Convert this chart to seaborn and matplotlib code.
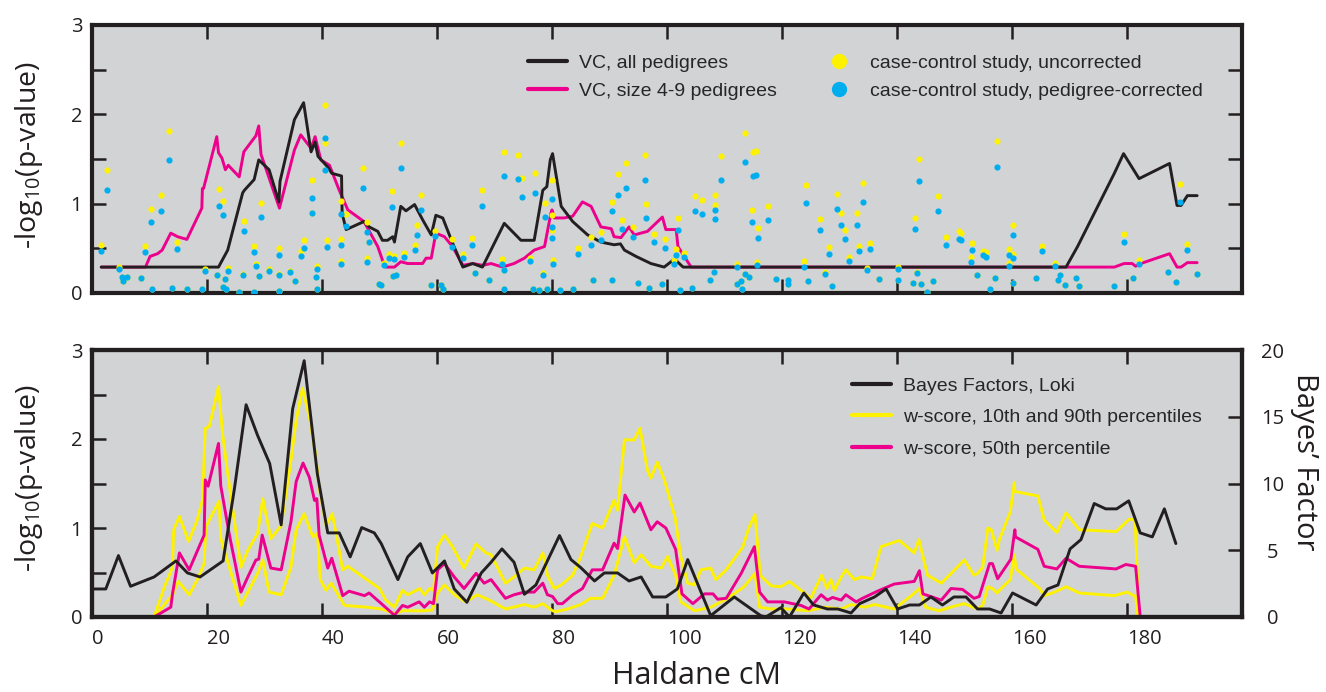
import matplotlib
matplotlib.use("Agg")
import matplotlib.pyplot as plt
import seaborn as sns
from matplotlib.lines import Line2D
from matplotlib.ticker import FixedLocator, MultipleLocator, FuncFormatter

# ---- top panel: variance components (VC) ----
vc_all_cm = [1.6, 22.0, 23.6, 26.2, 26.5, 28.2, 29.0, 30.8, 32.5, 32.7,
             35.2, 36.8, 38.1, 38.8, 39.3, 41.0, 41.7, 43.4, 43.5, 44.2,
             47.3, 48.2, 49.7, 50.5, 51.4, 52.3, 52.6, 53.7, 54.6, 56.1,
             57.5, 59.0, 59.8, 61.0, 62.7, 64.5, 66.2, 67.9, 71.7, 74.6,
             76.9, 78.4, 79.1, 79.7, 80.1, 81.6, 83.6, 86.2, 88.5, 90.8,
             91.9, 92.6, 94.6, 97.2, 99.5, 101.3, 102.8, 169.4, 171.4, 177.8,
             179.4, 182.1, 187.4, 188.7, 189.4, 190.5, 192.2]
vc_all = [0.29, 0.29, 0.48, 1.12, 1.15, 1.27, 1.49, 1.38, 1.02, 1.25,
          1.94, 2.13, 1.58, 1.69, 1.53, 1.41, 1.34, 1.31, 0.89, 0.71,
          0.80, 0.74, 0.69, 0.59, 0.59, 0.63, 0.57, 0.97, 0.92, 0.99,
          0.82, 0.65, 0.87, 0.84, 0.56, 0.29, 0.33, 0.29, 0.78, 0.59,
          0.59, 1.15, 1.19, 1.49, 1.56, 0.97, 0.80, 0.65, 0.57, 0.54,
          0.55, 0.48, 0.41, 0.33, 0.29, 0.38, 0.29, 0.29, 0.52, 1.34,
          1.56, 1.28, 1.45, 0.98, 0.98, 1.09, 1.09]

vc49_cm = [1.6, 9.3, 10.1, 11.4, 12.2, 13.7, 14.9, 16.5, 19.1, 19.2,
           19.4, 21.7, 22.0, 22.6, 23.2, 23.7, 25.6, 26.4, 28.5, 29.0,
           29.4, 32.6, 35.2, 36.3, 38.1, 38.8, 39.8, 41.3, 43.0, 44.5,
           47.3, 49.7, 50.5, 51.1, 52.6, 53.7, 54.9, 56.6, 57.5, 58.1,
           59.0, 59.8, 61.3, 62.7, 64.5, 66.2, 68.0, 69.4, 71.4, 73.4,
           75.2, 76.9, 78.7, 79.8, 80.0, 80.4, 82.1, 83.6, 85.3, 86.8,
           88.5, 90.3, 90.8, 92.0, 93.4, 94.3, 96.6, 99.2, 99.8, 101.6,
           101.9, 104.2, 177.8, 179.5, 180.9, 181.5, 182.4, 187.4, 188.7, 189.4,
           190.5, 192.2]
vc49 = [0.29, 0.29, 0.41, 0.44, 0.48, 0.67, 0.63, 0.60, 0.95, 1.17,
        1.17, 1.75, 1.57, 1.51, 1.38, 1.43, 1.30, 1.58, 1.76, 1.87,
        1.55, 0.95, 1.60, 1.77, 1.62, 1.75, 1.49, 1.43, 1.15, 0.93,
        0.80, 0.52, 0.37, 0.29, 0.29, 0.35, 0.33, 0.33, 0.33, 0.39,
        0.39, 0.67, 0.63, 0.52, 0.31, 0.33, 0.31, 0.33, 0.29, 0.33,
        0.39, 0.48, 0.52, 0.89, 0.93, 0.84, 0.84, 0.86, 1.02, 0.97,
        0.74, 0.72, 0.63, 0.62, 0.74, 0.65, 0.69, 0.85, 0.71, 0.71,
        0.52, 0.29, 0.29, 0.33, 0.33, 0.30, 0.33, 0.44, 0.29, 0.29,
        0.34, 0.34]

# case-control markers (same positions, uncorrected vs pedigree-corrected)
cc_cm = [1.6, 2.55, 4.75, 5.3, 5.4, 6.1, 8.6, 9.2, 10.3, 10.4,
         12.0, 13.4, 13.9, 14.8, 16.5, 19.2, 19.7, 21.7, 22.0, 22.7,
         22.8, 23.2, 23.3, 23.6, 25.6, 26.2, 26.5, 28.1, 28.2, 28.6,
         29.1, 29.4, 30.8, 32.5, 32.5, 32.5, 34.4, 35.3, 36.3, 36.9,
         38.2, 38.2, 39.0, 39.2, 39.2, 40.5, 40.6, 40.9, 43.3, 43.3,
         43.3, 44.2, 47.1, 47.8, 47.8, 48.1, 49.9, 50.3, 50.7, 51.6,
         52.2, 52.3, 52.6, 52.9, 53.7, 54.3, 56.1, 56.5, 57.3, 59.0,
         59.7, 60.7, 61.0, 62.6, 64.5, 66.1, 66.6, 67.8, 69.1, 71.3,
         71.6, 71.7, 71.6, 74.0, 74.8, 76.2, 76.7, 77.0, 77.8, 78.5,
         78.8, 79.1, 80.0, 80.0, 80.0, 80.2, 81.4, 83.6, 84.6, 86.7,
         87.2, 88.5, 90.4, 90.5, 91.5, 92.8, 92.2, 94.0, 95.0, 96.2,
         96.3, 96.9, 97.8, 99.2, 99.7, 101.3, 101.9, 101.5, 103.0, 102.3,
         104.3, 104.8, 106.1, 107.5, 108.2, 108.4, 108.4, 109.4, 112.2, 112.2,
         112.8, 113.0, 113.6, 113.6, 114.3, 114.8, 114.9, 115.5, 115.6, 115.9,
         117.6, 118.9, 121.0, 121.0, 123.8, 124.2, 124.5, 126.6, 127.4, 128.2,
         128.7, 129.6, 130.3, 130.9, 131.6, 133.0, 133.4, 134.0, 134.8, 135.3,
         136.9, 140.1, 140.2, 142.7, 143.1, 143.5, 143.9, 144.1, 145.2, 146.3,
         147.2, 148.5, 150.7, 151.1, 152.9, 153.0, 153.9, 154.9, 155.5, 156.2,
         157.1, 157.4, 159.4, 159.4, 160.1, 160.1, 160.1, 164.2, 165.2, 167.4,
         168.0, 168.4, 169.3, 171.1, 171.6, 177.8, 179.5, 181.1, 182.0, 187.2,
         188.6, 189.3, 190.5, 192.2]
cc_uncorrected = [0.54, 1.38, 0.29, 0.18, 0.13, 0.18, 0.17, 0.53, 0.94, 0.04,
                  1.10, 1.81, 0.06, 0.57, 0.04, 0.04, 0.27, 0.20, 1.16, 1.03,
                  0.07, 0.16, 0.05, 0.28, 0.01, 0.21, 0.81, 0.53, 0.01, 0.33,
                  0.19, 1.01, 0.27, 0.50, 0.21, 0.02, 0.25, 0.13, 0.47, 0.59,
                  1.27, 0.89, 0.18, 0.30, 0.05, 2.11, 1.68, 0.59, 1.03, 0.61,
                  0.36, 0.88, 1.40, 0.79, 0.39, 0.57, 0.10, 0.09, 0.34, 0.44,
                  1.14, 0.19, 0.41, 0.20, 1.68, 0.45, 0.54, 0.76, 1.10, 0.09,
                  0.69, 0.09, 0.04, 0.60, 0.44, 0.62, 0.22, 1.15, 0.15, 0.38,
                  1.58, 0.26, 0.05, 1.55, 1.29, 0.39, 0.05, 1.34, 0.03, 0.22,
                  1.01, 0.04, 1.27, 0.87, 0.70, 0.37, 0.03, 0.05, 0.50, 0.63,
                  0.14, 0.68, 1.02, 0.15, 1.33, 1.45, 0.82, 0.74, 0.11, 1.54,
                  1.00, 0.06, 0.66, 0.10, 0.60, 0.37, 0.84, 0.49, 0.45, 0.03,
                  0.06, 1.09, 1.04, 0.14, 0.24, 1.10, 0.98, 1.53, 0.33, 0.10,
                  0.13, 0.04, 1.79, 0.21, 0.18, 0.93, 1.58, 1.59, 0.35, 0.73,
                  0.97, 0.16, 0.15, 0.10, 0.36, 1.21, 0.13, 0.83, 0.23, 0.51,
                  0.08, 1.11, 0.90, 0.70, 0.40, 0.90, 0.53, 1.23, 0.28, 0.56,
                  0.16, 0.29, 0.14, 0.11, 0.84, 0.24, 1.50, 0.10, 0.01, 0.13,
                  1.09, 0.63, 0.69, 0.67, 0.40, 0.56, 0.20, 0.47, 0.46, 0.04,
                  0.17, 1.70, 0.49, 0.34, 0.76, 0.44, 0.11, 0.17, 0.53, 0.34,
                  0.14, 0.20, 0.09, 0.17, 0.08, 0.08, 0.66, 0.17, 0.37, 0.24,
                  0.12, 1.22, 0.55, 0.21]
cc_corrected = [0.47, 1.15, 0.27, 0.18, 0.13, 0.18, 0.17, 0.46, 0.79, 0.04,
                0.92, 1.49, 0.06, 0.49, 0.04, 0.04, 0.25, 0.20, 0.97, 0.87,
                0.07, 0.16, 0.05, 0.25, 0.01, 0.20, 0.69, 0.46, 0.01, 0.30,
                0.19, 0.85, 0.25, 0.43, 0.20, 0.02, 0.23, 0.13, 0.41, 0.50,
                1.06, 0.89, 0.18, 0.27, 0.05, 1.73, 1.38, 0.51, 0.88, 0.54,
                0.33, 0.75, 1.17, 0.68, 0.35, 0.57, 0.10, 0.09, 0.31, 0.39,
                0.96, 0.19, 0.38, 0.20, 1.40, 0.40, 0.48, 0.65, 0.93, 0.09,
                0.64, 0.09, 0.04, 0.52, 0.39, 0.54, 0.22, 0.97, 0.15, 0.33,
                1.31, 0.26, 0.05, 1.28, 1.08, 0.36, 0.05, 1.12, 0.03, 0.20,
                0.85, 0.04, 1.05, 0.74, 0.62, 0.32, 0.03, 0.05, 0.44, 0.54,
                0.14, 0.59, 0.92, 0.15, 1.10, 1.18, 0.72, 0.63, 0.11, 1.27,
                0.84, 0.06, 0.57, 0.10, 0.50, 0.33, 0.71, 0.43, 0.40, 0.03,
                0.06, 0.92, 0.88, 0.14, 0.24, 0.93, 0.83, 1.27, 0.29, 0.10,
                0.13, 0.04, 1.47, 0.21, 0.18, 0.79, 1.31, 1.32, 0.31, 0.62,
                0.82, 0.16, 0.15, 0.10, 0.29, 1.01, 0.13, 0.71, 0.21, 0.44,
                0.08, 0.94, 0.76, 0.61, 0.36, 0.76, 0.47, 1.02, 0.26, 0.49,
                0.16, 0.27, 0.14, 0.11, 0.72, 0.22, 1.25, 0.10, 0.01, 0.13,
                0.92, 0.54, 0.60, 0.59, 0.35, 0.48, 0.20, 0.42, 0.40, 0.04,
                0.17, 1.41, 0.42, 0.30, 0.65, 0.39, 0.11, 0.17, 0.47, 0.30,
                0.14, 0.20, 0.09, 0.17, 0.08, 0.08, 0.57, 0.17, 0.33, 0.23,
                0.12, 1.02, 0.48, 0.21]

# ---- bottom panel: w-scores and Loki Bayes factors ----
w90_cm = [10.8, 12.6, 14.0, 14.2, 15.2, 16.8, 18.3, 19.2, 19.7, 20.4,
          22.0, 22.7, 23.6, 24.5, 25.9, 27.1, 28.8, 29.7, 31.1, 32.9,
          34.6, 35.5, 36.6, 37.8, 38.9, 39.5, 40.7, 41.8, 43.6, 44.5,
          50.0, 51.1, 52.6, 54.0, 54.9, 57.0, 57.8, 58.7, 59.4, 60.1,
          61.3, 62.7, 64.7, 66.8, 68.5, 69.4, 71.9, 73.4, 75.2, 76.9,
          78.4, 79.2, 80.4, 81.6, 83.6, 85.0, 87.0, 88.8, 90.8, 91.4,
          92.6, 94.3, 95.3, 96.6, 97.2, 98.3, 99.5, 101.4, 102.4, 103.6,
          104.8, 105.9, 107.6, 108.5, 110.3, 113.2, 114.2, 115.3, 116.2, 118.1,
          119.8, 121.3, 123.3, 125.0, 126.9, 127.8, 128.5, 129.1, 130.3, 131.1,
          132.6, 133.8, 135.7, 137.2, 140.4, 143.0, 143.8, 145.3, 147.7, 149.4,
          151.7, 153.4, 154.0, 154.9, 155.8, 156.4, 157.4, 157.8, 159.7, 160.4,
          160.5, 164.5, 165.6, 167.8, 169.4, 171.7, 178.1, 180.4, 181.4, 182.1]
w90 = [0.0, 0.34, 0.56, 0.98, 1.13, 0.85, 1.09, 1.31, 2.12, 2.14,
       2.59, 2.06, 1.61, 1.20, 0.56, 0.75, 0.94, 1.33, 0.88, 1.03,
       1.76, 2.21, 2.57, 2.25, 1.82, 1.46, 1.03, 1.16, 0.53, 0.57,
       0.32, 0.19, 0.11, 0.30, 0.25, 0.32, 0.25, 0.32, 0.30, 0.79,
       0.92, 0.79, 0.55, 0.82, 0.72, 0.70, 0.38, 0.45, 0.55, 0.53,
       0.72, 0.47, 0.32, 0.36, 0.47, 0.68, 1.05, 1.00, 1.31, 1.20,
       1.99, 1.99, 2.12, 1.65, 1.56, 1.74, 1.55, 1.12, 0.68, 0.38,
       0.36, 0.53, 0.55, 0.42, 0.53, 0.79, 1.00, 1.15, 0.47, 0.35,
       0.34, 0.40, 0.30, 0.21, 0.47, 0.32, 0.42, 0.30, 0.45, 0.53,
       0.42, 0.45, 0.43, 0.79, 0.86, 0.72, 0.87, 0.47, 0.38, 0.49,
       0.64, 0.47, 0.49, 0.56, 1.00, 0.98, 0.75, 0.87, 1.18, 1.51,
       1.41, 1.36, 1.09, 0.95, 1.17, 0.98, 0.96, 1.10, 1.09, 0.0]

w10_cm = [10.8, 14.0, 15.0, 16.9, 18.4, 19.5, 19.8, 20.4, 22.1, 22.4,
          24.2, 25.9, 28.8, 29.7, 30.8, 32.9, 34.6, 35.5, 36.9, 38.4,
          39.2, 39.7, 40.7, 41.6, 43.9, 47.9, 50.3, 52.6, 54.0, 56.0,
          57.8, 59.2, 60.1, 61.3, 63.0, 65.0, 67.0, 69.1, 71.9, 75.2,
          76.9, 78.4, 80.1, 80.7, 82.7, 85.0, 86.7, 88.8, 90.8, 92.6,
          94.3, 95.5, 97.2, 99.0, 100.1, 101.5, 102.4, 104.8, 107.6, 110.5,
          113.4, 115.3, 116.1, 118.1, 121.0, 124.5, 127.4, 130.3, 132.0, 134.3,
          136.1, 139.5, 142.7, 143.9, 145.0, 147.3, 149.3, 151.7, 154.0, 154.9,
          155.8, 156.6, 157.4, 158.1, 159.7, 160.4, 160.7, 164.8, 165.6, 167.4,
          169.4, 171.7, 177.8, 180.0, 181.5, 181.9]
w10 = [0.0, 0.25, 0.40, 0.25, 0.43, 0.60, 1.01, 1.09, 1.30, 0.88,
       0.49, 0.13, 0.49, 0.64, 0.28, 0.25, 0.56, 0.98, 1.16, 0.90,
       0.94, 0.42, 0.30, 0.38, 0.13, 0.11, 0.09, 0.04, 0.07, 0.07,
       0.07, 0.08, 0.27, 0.36, 0.25, 0.17, 0.25, 0.19, 0.09, 0.14,
       0.11, 0.15, 0.07, 0.06, 0.09, 0.14, 0.21, 0.21, 0.47, 0.90,
       0.61, 0.70, 0.57, 0.55, 0.68, 0.47, 0.17, 0.07, 0.11, 0.21,
       0.34, 0.49, 0.11, 0.09, 0.09, 0.07, 0.11, 0.09, 0.14, 0.11,
       0.14, 0.09, 0.25, 0.32, 0.11, 0.07, 0.11, 0.15, 0.09, 0.13,
       0.34, 0.32, 0.27, 0.32, 0.42, 0.70, 0.54, 0.32, 0.24, 0.28,
       0.34, 0.27, 0.24, 0.28, 0.23, 0.0]

w50_cm = [10.8, 13.7, 14.0, 15.2, 16.9, 19.5, 19.7, 20.2, 22.0, 22.4,
          23.9, 25.9, 27.1, 28.5, 29.0, 29.6, 31.1, 32.9, 34.6, 35.5,
          36.7, 37.8, 38.7, 39.1, 39.5, 41.0, 41.7, 43.6, 44.7, 47.4,
          48.2, 50.5, 52.6, 54.0, 54.9, 56.9, 57.8, 58.7, 59.4, 60.1,
          61.3, 63.0, 64.7, 66.8, 68.2, 69.4, 71.9, 73.4, 75.2, 76.9,
          78.4, 79.2, 80.1, 81.0, 81.8, 83.6, 85.3, 87.0, 88.8, 90.8,
          91.4, 92.7, 94.3, 95.3, 97.2, 98.3, 99.8, 101.5, 102.6, 104.5,
          106.5, 108.0, 108.8, 110.3, 112.9, 115.2, 116.1, 117.5, 120.4, 123.3,
          124.7, 126.8, 127.9, 128.8, 130.3, 131.1, 132.9, 134.0, 136.6, 139.5,
          143.0, 143.9, 144.5, 147.7, 149.4, 151.4, 153.4, 154.3, 156.1, 156.6,
          157.5, 159.8, 160.5, 160.6, 164.5, 165.6, 167.8, 169.4, 171.7, 178.1,
          179.8, 181.5, 182.3]
w50 = [0.0, 0.11, 0.26, 0.72, 0.53, 0.92, 1.54, 1.47, 1.95, 1.47,
       0.92, 0.28, 0.45, 0.64, 0.65, 0.92, 0.55, 0.53, 1.07, 1.52,
       1.73, 1.57, 1.31, 1.33, 0.92, 0.55, 0.66, 0.24, 0.29, 0.24,
       0.27, 0.14, 0.02, 0.13, 0.11, 0.17, 0.11, 0.17, 0.15, 0.53,
       0.60, 0.45, 0.32, 0.49, 0.38, 0.42, 0.21, 0.25, 0.28, 0.28,
       0.38, 0.25, 0.23, 0.15, 0.15, 0.25, 0.32, 0.53, 0.53, 0.83,
       0.77, 1.37, 1.18, 1.28, 0.98, 1.07, 1.00, 0.76, 0.26, 0.15,
       0.26, 0.26, 0.20, 0.21, 0.49, 0.79, 0.28, 0.17, 0.17, 0.13,
       0.09, 0.25, 0.19, 0.22, 0.19, 0.25, 0.17, 0.21, 0.29, 0.37,
       0.40, 0.52, 0.26, 0.19, 0.32, 0.31, 0.21, 0.23, 0.60, 0.60,
       0.43, 0.65, 0.98, 0.90, 0.76, 0.57, 0.54, 0.66, 0.57, 0.54,
       0.59, 0.57, 0.0]

bf_cm = [0.4, 2.4, 4.6, 6.7, 10.8, 14.6, 16.6, 18.8, 22.8, 24.8,
         26.8, 28.8, 30.9, 32.9, 34.9, 36.9, 39.2, 41.0, 43.0, 44.9,
         46.9, 49.1, 50.3, 53.2, 54.9, 57.1, 59.2, 61.3, 63.0, 65.2,
         67.7, 69.4, 71.3, 73.4, 75.2, 77.2, 81.3, 83.3, 85.0, 87.4,
         89.1, 91.4, 93.4, 95.5, 97.5, 99.8, 101.8, 103.6, 107.6, 111.7,
         116.3, 117.2, 119.8, 121.3, 123.8, 125.5, 127.9, 129.7, 132.0, 133.5,
         136.1, 138.1, 140.1, 142.2, 143.9, 145.9, 147.9, 149.9, 152.0, 154.0,
         156.1, 158.1, 160.1, 164.2, 166.2, 168.0, 170.1, 172.0, 174.3, 176.3,
         178.2, 180.3, 182.3, 184.4, 186.5, 188.5]
bayes_factor = [2.1, 2.1, 4.6, 2.3, 3.0, 4.2, 3.3, 3.0, 4.2, 9.7,
                15.9, 13.6, 11.5, 6.9, 15.6, 19.2, 10.7, 6.3, 6.3, 4.5,
                6.7, 6.3, 5.5, 2.8, 4.5, 5.5, 3.3, 4.2, 2.1, 1.1,
                3.3, 4.1, 5.1, 4.1, 1.7, 2.4, 6.1, 4.3, 3.7, 2.7,
                3.3, 3.3, 2.7, 3.0, 1.5, 1.5, 2.1, 4.3, 0.1, 1.5,
                0.1, 0.0, 0.7, 0.0, 1.8, 0.9, 0.6, 0.6, 0.3, 1.0,
                1.5, 2.1, 0.6, 0.9, 0.9, 1.5, 0.9, 1.5, 1.5, 0.6,
                0.6, 0.3, 1.8, 0.9, 2.1, 2.4, 5.1, 5.8, 8.5, 8.1,
                8.1, 8.7, 6.3, 6.0, 8.1, 5.5]

x_ticks = [0, 20, 40, 60, 80, 100, 120, 140, 160, 180]

BG = "#d1d3d4"
INK = "#231f20"
YELLOW = "#fff200"
CYAN = "#00aeef"
MAGENTA = "#ec008c"

sns.set_theme(style="white")
plt.rcParams['font.family'] = ['Open Sans', 'DejaVu Sans']
plt.rcParams['mathtext.fontset'] = 'custom'
plt.rcParams['mathtext.rm'] = 'Open Sans'
plt.rcParams['mathtext.it'] = 'Open Sans'

W, H = 1326, 692
fig = plt.figure(figsize=(W / 100, H / 100), dpi=100)
ax_top = fig.add_axes([92 / W, 1 - 293 / H, 1150 / W, 268 / H])
ax_bot = fig.add_axes([92 / W, 1 - 617 / H, 1150 / W, 267 / H])


def int_only(v, pos):
    return f"{v:g}" if abs(v - round(v)) < 1e-9 else ""


for ax in (ax_top, ax_bot):
    ax.set_facecolor(BG)
    ax.set_xlim(0, 200)
    ax.set_ylim(0, 3)
    for sp in ax.spines.values():
        sp.set_visible(True)
        sp.set_color(INK)
        sp.set_linewidth(3)
    ax.xaxis.set_major_locator(FixedLocator(x_ticks))
    ax.yaxis.set_major_locator(MultipleLocator(0.5))
    ax.yaxis.set_major_formatter(FuncFormatter(int_only))
    ax.tick_params(direction='in', length=10, width=1.8, color=INK,
                   top=True, bottom=True, left=True, labelsize=14.5,
                   labelcolor=INK, pad=7)

ax_top.tick_params(right=True, labelbottom=False)
ax_bot.tick_params(right=False, axis='x', pad=9)

# top panel
sns.lineplot(x=vc49_cm, y=vc49, ax=ax_top, color=MAGENTA, linewidth=2.1,
             estimator=None, sort=False, zorder=2)
sns.lineplot(x=vc_all_cm, y=vc_all, ax=ax_top, color=INK, linewidth=2.1,
             estimator=None, sort=False, zorder=2.1)
sns.scatterplot(x=cc_cm, y=cc_uncorrected, ax=ax_top, color=YELLOW, s=20,
                linewidth=0, zorder=3)
sns.scatterplot(x=cc_cm, y=cc_corrected, ax=ax_top, color=CYAN, s=20,
                linewidth=0, zorder=3.1)
ax_top.set_xlim(0, 200)
ax_top.set_ylim(0, 3)
ax_top.set_xlabel("")
ax_top.set_ylabel("")

# bottom panel
sns.lineplot(x=w90_cm, y=w90, ax=ax_bot, color=YELLOW, linewidth=2.1,
             estimator=None, sort=False, zorder=2)
sns.lineplot(x=w10_cm, y=w10, ax=ax_bot, color=YELLOW, linewidth=2.1,
             estimator=None, sort=False, zorder=2)
sns.lineplot(x=w50_cm, y=w50, ax=ax_bot, color=MAGENTA, linewidth=2.1,
             estimator=None, sort=False, zorder=2.1)
ax_bot.set_xlim(0, 200)
ax_bot.set_ylim(0, 3)
ax_bot.set_xlabel("")
ax_bot.set_ylabel("")
plt.setp(ax_bot.get_xticklabels(), ha='left')

ax_bf = ax_bot.twinx()
sns.lineplot(x=bf_cm, y=bayes_factor, ax=ax_bf, color=INK, linewidth=2.1,
             estimator=None, sort=False)
ax_bf.set_xlim(0, 200)
ax_bf.set_ylim(0, 20)
ax_bf.set_ylabel("")
ax_bf.yaxis.set_major_locator(MultipleLocator(5))
ax_bf.tick_params(axis='y', direction='in', length=10, width=1.8, color=INK,
                  labelsize=14.5, labelcolor=INK, pad=22)
plt.setp(ax_bf.get_yticklabels(), ha='center')
for sp in ax_bf.spines.values():
    sp.set_color(INK)
    sp.set_linewidth(3)

# legends
leg_font = {'family': ['Liberation Sans', 'DejaVu Sans'], 'size': 14}
top_handles = [
    Line2D([], [], color=INK, lw=3),
    Line2D([], [], color=MAGENTA, lw=3),
    Line2D([], [], color=YELLOW, marker='o', ls='', markersize=11, markeredgewidth=0),
    Line2D([], [], color=CYAN, marker='o', ls='', markersize=11, markeredgewidth=0),
]
top_labels = ["VC, all pedigrees", "VC, size 4-9 pedigrees",
              "case-control study, uncorrected",
              "case-control study, pedigree-corrected"]
ax_top.legend(top_handles, top_labels, ncol=2, loc='upper left',
              bbox_to_anchor=(528 / W, 1 - 54 / H), bbox_transform=fig.transFigure,
              frameon=False, prop=leg_font, borderpad=0, borderaxespad=0,
              handlelength=2.0, handletextpad=0.6, columnspacing=2.2,
              labelspacing=0.56)

bot_handles = [
    Line2D([], [], color=INK, lw=3),
    Line2D([], [], color=YELLOW, lw=3),
    Line2D([], [], color=MAGENTA, lw=3),
]
bot_labels = ["Bayes Factors, Loki", "w-score, 10th and 90th percentiles",
              "w-score, 50th percentile"]
ax_bf.legend(bot_handles, bot_labels, loc='upper left',
             bbox_to_anchor=(852 / W, 1 - 377 / H), bbox_transform=fig.transFigure,
             frameon=False, prop=leg_font, borderpad=0, borderaxespad=0,
             handlelength=2.0, handletextpad=0.6, labelspacing=0.72)

# axis titles
fig.text(29 / W, 1 - 155 / H, r"-log$_{10}$(p-value)", rotation=90,
         ha='center', va='center', fontsize=20.5, color=INK)
fig.text(29 / W, 1 - 478 / H, r"-log$_{10}$(p-value)", rotation=90,
         ha='center', va='center', fontsize=20.5, color=INK)
fig.text(1305 / W, 1 - 462 / H, "Bayes\u2019 Factor", rotation=270,
         ha='center', va='center', fontsize=21, color=INK)
fig.text(697 / W, 1 - 676 / H, "Haldane cM", ha='center', va='center',
         fontsize=22, color=INK)

fig.savefig("out.png", dpi=100)
